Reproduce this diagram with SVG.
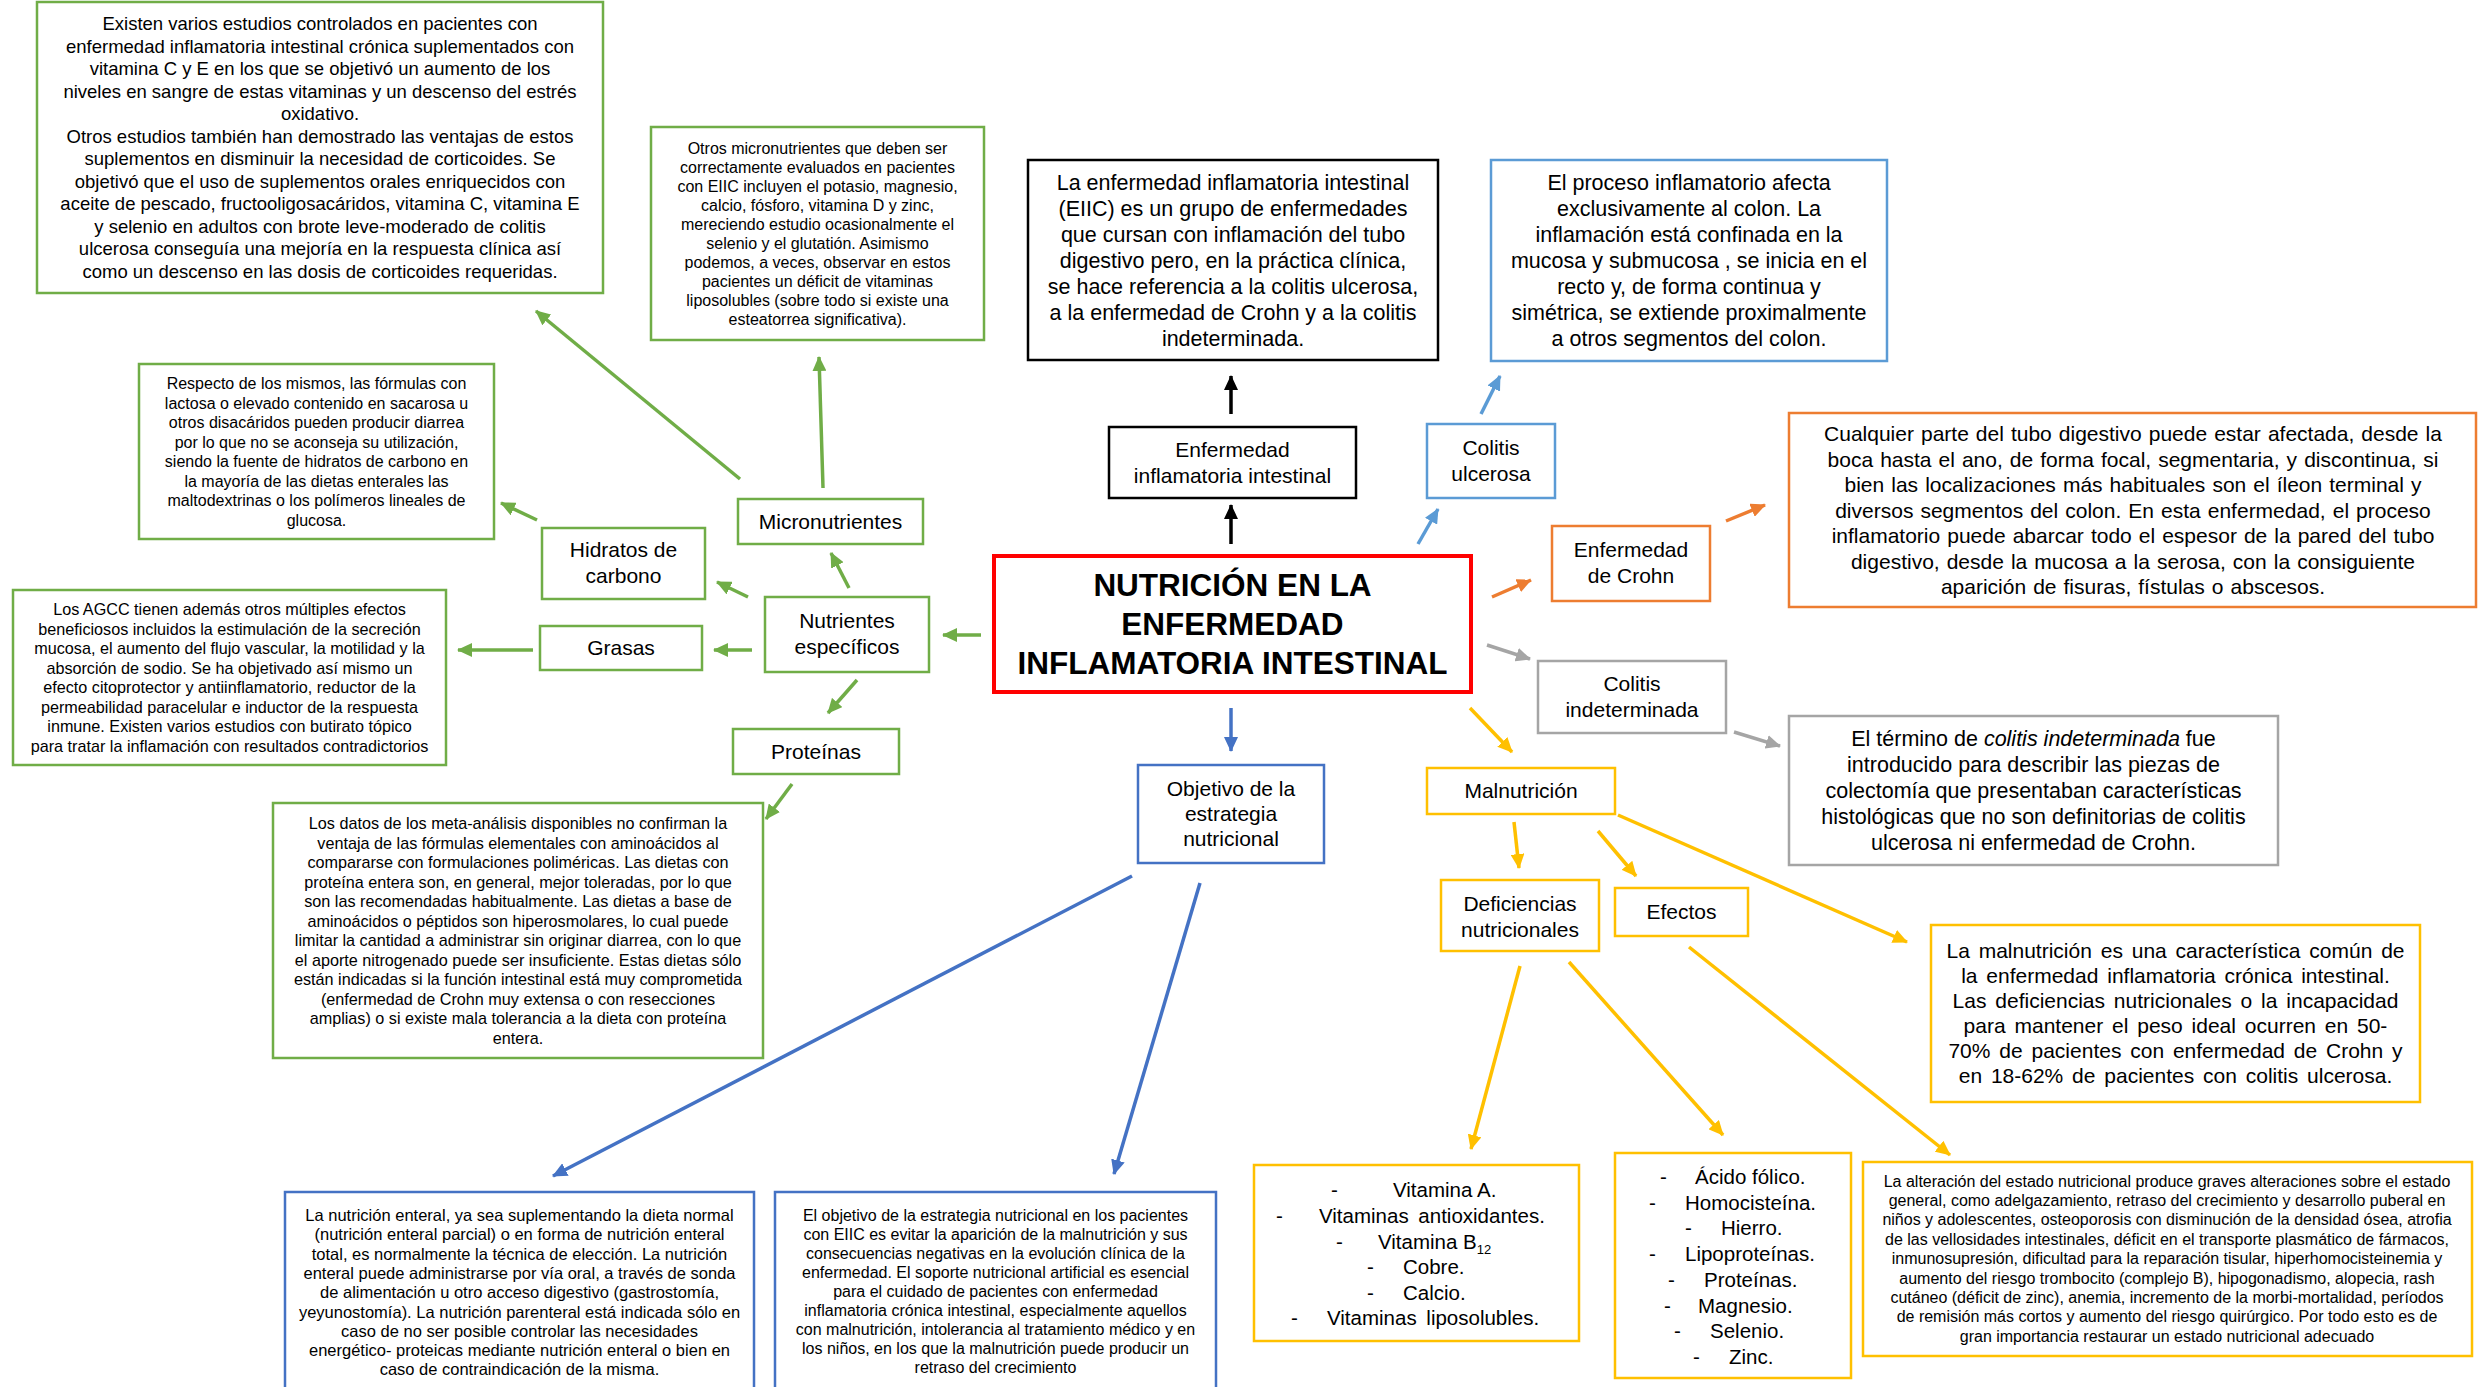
<svg xmlns="http://www.w3.org/2000/svg" width="2478" height="1387" viewBox="0 0 2478 1387">
<style>
text{font-family:"Liberation Sans",Arial,sans-serif;fill:#000;text-anchor:middle}
.ls text,text.ls{text-anchor:start}
.b{fill:#fff;stroke-width:2.5}
.gr{stroke:#70AD47}.bl{stroke:#5B9BD5}.db{stroke:#4472C4}.or{stroke:#ED7D31}.gy{stroke:#A5A5A5}.ye{stroke:#FFC000}.bk{stroke:#000}
.c{fill:none;stroke-width:3.5}
.n{font-size:21px}
</style>
<defs>
<marker id="aG" markerUnits="userSpaceOnUse" markerWidth="16" markerHeight="14" refX="14" refY="7" orient="auto"><path d="M0,0L15,7L0,14z" fill="#70AD47"/></marker>
<marker id="aB" markerUnits="userSpaceOnUse" markerWidth="16" markerHeight="14" refX="14" refY="7" orient="auto"><path d="M0,0L15,7L0,14z" fill="#5B9BD5"/></marker>
<marker id="aD" markerUnits="userSpaceOnUse" markerWidth="16" markerHeight="14" refX="14" refY="7" orient="auto"><path d="M0,0L15,7L0,14z" fill="#4472C4"/></marker>
<marker id="aO" markerUnits="userSpaceOnUse" markerWidth="16" markerHeight="14" refX="14" refY="7" orient="auto"><path d="M0,0L15,7L0,14z" fill="#ED7D31"/></marker>
<marker id="aY" markerUnits="userSpaceOnUse" markerWidth="16" markerHeight="14" refX="14" refY="7" orient="auto"><path d="M0,0L15,7L0,14z" fill="#FFC000"/></marker>
<marker id="aA" markerUnits="userSpaceOnUse" markerWidth="16" markerHeight="14" refX="14" refY="7" orient="auto"><path d="M0,0L15,7L0,14z" fill="#A5A5A5"/></marker>
<marker id="aK" markerUnits="userSpaceOnUse" markerWidth="16" markerHeight="14" refX="14" refY="7" orient="auto"><path d="M0,0L15,7L0,14z" fill="#000"/></marker>
</defs>
<rect width="2478" height="1387" fill="#fff"/>

<g id="connectors">
<line class="c bk" x1="1231" y1="414" x2="1231" y2="376" marker-end="url(#aK)"/>
<line class="c bk" x1="1231" y1="544" x2="1231" y2="505" marker-end="url(#aK)"/>
<line class="c bl" x1="1418" y1="544" x2="1438" y2="509" marker-end="url(#aB)"/>
<line class="c bl" x1="1481" y1="414" x2="1500" y2="376" marker-end="url(#aB)"/>
<line class="c or" x1="1492" y1="597" x2="1531" y2="580" marker-end="url(#aO)"/>
<line class="c or" x1="1726" y1="521" x2="1765" y2="505" marker-end="url(#aO)"/>
<line class="c gy" x1="1487" y1="645" x2="1530" y2="659" marker-end="url(#aA)"/>
<line class="c gy" x1="1734" y1="732" x2="1780" y2="746" marker-end="url(#aA)"/>
<line class="c ye" x1="1470" y1="708" x2="1512" y2="752" marker-end="url(#aY)"/>
<line class="c ye" x1="1514" y1="822" x2="1519" y2="868" marker-end="url(#aY)"/>
<line class="c ye" x1="1598" y1="831" x2="1636" y2="876" marker-end="url(#aY)"/>
<line class="c ye" x1="1618" y1="815" x2="1907" y2="942" marker-end="url(#aY)"/>
<line class="c ye" x1="1520" y1="966" x2="1471" y2="1149" marker-end="url(#aY)"/>
<line class="c ye" x1="1569" y1="962" x2="1723" y2="1135" marker-end="url(#aY)"/>
<line class="c ye" x1="1689" y1="947" x2="1950" y2="1155" marker-end="url(#aY)"/>
<line class="c db" x1="1231" y1="708" x2="1231" y2="751" marker-end="url(#aD)"/>
<line class="c db" x1="1132" y1="876" x2="553" y2="1176" marker-end="url(#aD)"/>
<line class="c db" x1="1200" y1="883" x2="1114" y2="1174" marker-end="url(#aD)"/>
<line class="c gr" x1="981" y1="635" x2="943" y2="635" marker-end="url(#aG)"/>
<line class="c gr" x1="849" y1="588" x2="831" y2="553" marker-end="url(#aG)"/>
<line class="c gr" x1="823" y1="488" x2="819" y2="357" marker-end="url(#aG)"/>
<line class="c gr" x1="740" y1="479" x2="536" y2="311" marker-end="url(#aG)"/>
<line class="c gr" x1="748" y1="597" x2="717" y2="582" marker-end="url(#aG)"/>
<line class="c gr" x1="537" y1="520" x2="501" y2="503" marker-end="url(#aG)"/>
<line class="c gr" x1="752" y1="650" x2="714" y2="650" marker-end="url(#aG)"/>
<line class="c gr" x1="533" y1="650" x2="458" y2="650" marker-end="url(#aG)"/>
<line class="c gr" x1="857" y1="680" x2="828" y2="713" marker-end="url(#aG)"/>
<line class="c gr" x1="792" y1="784" x2="766" y2="819" marker-end="url(#aG)"/>
</g>

<g id="central">
<rect x="994" y="556" width="477" height="136" fill="#fff" stroke="#FF0000" stroke-width="4"/>
<text x="1232.5" y="596" font-size="31.5" font-weight="bold"><tspan x="1232.5">NUTRICIÓN EN LA</tspan><tspan x="1232.5" dy="39">ENFERMEDAD</tspan><tspan x="1232.5" dy="39">INFLAMATORIA INTESTINAL</tspan></text>
</g>

<g id="eii">
<rect class="b bk" x="1109" y="427" width="247" height="71"/>
<text class="n" x="1232.5" y="457"><tspan x="1232.5">Enfermedad</tspan><tspan x="1232.5" dy="25.5">inflamatoria intestinal</tspan></text>
</g>
<g id="eii-text">
<rect class="b bk" x="1028" y="160" width="410" height="200" stroke-width="3"/>
<text x="1233" y="189.5" font-size="21.5"><tspan x="1233">La enfermedad inflamatoria intestinal</tspan><tspan x="1233" dy="26">(EIIC) es un grupo de enfermedades</tspan><tspan x="1233" dy="26">que cursan con inflamación del tubo</tspan><tspan x="1233" dy="26">digestivo pero, en la práctica clínica,</tspan><tspan x="1233" dy="26">se hace referencia a la colitis ulcerosa,</tspan><tspan x="1233" dy="26">a la enfermedad de Crohn y a la colitis</tspan><tspan x="1233" dy="26">indeterminada.</tspan></text>
</g>

<g id="colitis-ulcerosa">
<rect class="b bl" x="1427" y="424" width="128" height="74"/>
<text class="n" x="1491" y="455"><tspan x="1491">Colitis</tspan><tspan x="1491" dy="25.5">ulcerosa</tspan></text>
</g>
<g id="cu-text">
<rect class="b bl" x="1491" y="160" width="396" height="201"/>
<text x="1689" y="189.5" font-size="21.5"><tspan x="1689">El proceso inflamatorio afecta</tspan><tspan x="1689" dy="26">exclusivamente al colon. La</tspan><tspan x="1689" dy="26">inflamación está confinada en la</tspan><tspan x="1689" dy="26">mucosa y submucosa , se inicia en el</tspan><tspan x="1689" dy="26">recto y, de forma continua y</tspan><tspan x="1689" dy="26">simétrica, se extiende proximalmente</tspan><tspan x="1689" dy="26">a otros segmentos del colon.</tspan></text>
</g>

<g id="crohn">
<rect class="b or" x="1552" y="526" width="158" height="75"/>
<text class="n" x="1631" y="557"><tspan x="1631">Enfermedad</tspan><tspan x="1631" dy="25.5">de Crohn</tspan></text>
</g>
<g id="crohn-text">
<rect class="b or" x="1789" y="413" width="687" height="194"/>
<text x="2133" y="441" font-size="21" word-spacing="1.2"><tspan x="2133">Cualquier parte del tubo digestivo puede estar afectada, desde la</tspan><tspan x="2133" dy="25.5">boca hasta el ano, de forma focal, segmentaria, y discontinua, si</tspan><tspan x="2133" dy="25.5">bien las localizaciones más habituales son el íleon terminal y</tspan><tspan x="2133" dy="25.5">diversos segmentos del colon. En esta enfermedad, el proceso</tspan><tspan x="2133" dy="25.5">inflamatorio puede abarcar todo el espesor de la pared del tubo</tspan><tspan x="2133" dy="25.5">digestivo, desde la mucosa a la serosa, con la consiguiente</tspan><tspan x="2133" dy="25.5">aparición de fisuras, fístulas o abscesos.</tspan></text>
</g>

<g id="colitis-indeterminada">
<rect class="b gy" x="1538" y="661" width="188" height="72"/>
<text class="n" x="1632" y="691"><tspan x="1632">Colitis</tspan><tspan x="1632" dy="25.5">indeterminada</tspan></text>
</g>
<g id="ci-text">
<rect class="b gy" x="1789" y="716" width="489" height="149"/>
<text x="2033.5" y="746" font-size="21.5"><tspan x="2033.5">El término de <tspan font-style="italic">colitis indeterminada</tspan> fue</tspan><tspan x="2033.5" dy="26">introducido para describir las piezas de</tspan><tspan x="2033.5" dy="26">colectomía que presentaban características</tspan><tspan x="2033.5" dy="26">histológicas que no son definitorias de colitis</tspan><tspan x="2033.5" dy="26">ulcerosa ni enfermedad de Crohn.</tspan></text>
</g>

<g id="malnutricion">
<rect class="b ye" x="1427" y="768" width="188" height="46"/>
<text class="n" x="1521" y="798">Malnutrición</text>
</g>
<g id="malnutricion-text">
<rect class="b ye" x="1931" y="925" width="489" height="177"/>
<text x="2175.5" y="958" font-size="21" word-spacing="3"><tspan x="2175.5">La malnutrición es una característica común de</tspan><tspan x="2175.5" dy="25">la enfermedad inflamatoria crónica intestinal.</tspan><tspan x="2175.5" dy="25">Las deficiencias nutricionales o la incapacidad</tspan><tspan x="2175.5" dy="25">para mantener el peso ideal ocurren en 50-</tspan><tspan x="2175.5" dy="25">70% de pacientes con enfermedad de Crohn y</tspan><tspan x="2175.5" dy="25">en 18-62% de pacientes con colitis ulcerosa.</tspan></text>
</g>

<g id="deficiencias">
<rect class="b ye" x="1441" y="880" width="158" height="71"/>
<text class="n" x="1520" y="911"><tspan x="1520">Deficiencias</tspan><tspan x="1520" dy="25.5">nutricionales</tspan></text>
</g>
<g id="efectos">
<rect class="b ye" x="1615" y="888" width="133" height="48"/>
<text class="n" x="1681.5" y="919">Efectos</text>
</g>

<g id="lista-1">
<rect class="b ye" x="1254" y="1165" width="325" height="176" stroke-width="3"/>
<g class="ls" font-size="20.5">
<text x="1331" y="1197">-</text><text x="1393" y="1197">Vitamina A.</text>
<text x="1276" y="1223">-</text><text x="1319" y="1223" word-spacing="4">Vitaminas antioxidantes.</text>
<text x="1336" y="1249">-</text><text x="1378" y="1249">Vitamina B<tspan font-size="13" dy="5">12</tspan></text>
<text x="1367" y="1274">-</text><text x="1403" y="1274">Cobre.</text>
<text x="1367" y="1300">-</text><text x="1403" y="1300">Calcio.</text>
<text x="1291" y="1325">-</text><text x="1327" y="1325" word-spacing="4">Vitaminas liposolubles.</text>
</g>
</g>
<g id="lista-2">
<rect class="b ye" x="1615" y="1153" width="236" height="225" stroke-width="3"/>
<g class="ls" font-size="20.5">
<text x="1660" y="1184">-</text><text x="1695" y="1184">Ácido fólico.</text>
<text x="1649" y="1210">-</text><text x="1685" y="1210">Homocisteína.</text>
<text x="1685" y="1235">-</text><text x="1721" y="1235">Hierro.</text>
<text x="1649" y="1261">-</text><text x="1685" y="1261">Lipoproteínas.</text>
<text x="1668" y="1287">-</text><text x="1704" y="1287">Proteínas.</text>
<text x="1664" y="1313">-</text><text x="1698" y="1313">Magnesio.</text>
<text x="1674" y="1338">-</text><text x="1710" y="1338">Selenio.</text>
<text x="1693" y="1364">-</text><text x="1729" y="1364">Zinc.</text>
</g>
</g>
<g id="efectos-text">
<rect class="b ye" x="1863" y="1162" width="609" height="194" stroke-width="3"/>
<text x="2167" y="1186.6" font-size="16"><tspan x="2167">La alteración del estado nutricional produce graves alteraciones sobre el estado</tspan><tspan x="2167" dy="19.4">general, como adelgazamiento, retraso del crecimiento y desarrollo puberal en</tspan><tspan x="2167" dy="19.4">niños y adolescentes, osteoporosis con disminución de la densidad ósea, atrofia</tspan><tspan x="2167" dy="19.4">de las vellosidades intestinales, déficit en el transporte plasmático de fármacos,</tspan><tspan x="2167" dy="19.4">inmunosupresión, dificultad para la reparación tisular, hiperhomocisteinemia y</tspan><tspan x="2167" dy="19.4">aumento del riesgo trombocito (complejo B), hipogonadismo, alopecia, rash</tspan><tspan x="2167" dy="19.4">cutáneo (déficit de zinc), anemia, incremento de la morbi-mortalidad, períodos</tspan><tspan x="2167" dy="19.4">de remisión más cortos y aumento del riesgo quirúrgico. Por todo esto es de</tspan><tspan x="2167" dy="19.4">gran importancia restaurar un estado nutricional adecuado</tspan></text>
</g>

<g id="objetivo">
<rect class="b db" x="1138" y="765" width="186" height="98"/>
<text class="n" x="1231" y="796"><tspan x="1231">Objetivo de la</tspan><tspan x="1231" dy="25">estrategia</tspan><tspan x="1231" dy="25">nutricional</tspan></text>
</g>
<g id="enteral-text">
<rect class="b db" x="285" y="1192" width="469" height="210"/>
<text x="519.5" y="1221" font-size="16.5"><tspan x="519.5">La nutrición enteral, ya sea suplementando la dieta normal</tspan><tspan x="519.5" dy="19.3">(nutrición enteral parcial) o en forma de nutrición enteral</tspan><tspan x="519.5" dy="19.3">total, es normalmente la técnica de elección. La nutrición</tspan><tspan x="519.5" dy="19.3">enteral puede administrarse por vía oral, a través de sonda</tspan><tspan x="519.5" dy="19.3">de alimentación u otro acceso digestivo (gastrostomía,</tspan><tspan x="519.5" dy="19.3">yeyunostomía). La nutrición parenteral está indicada sólo en</tspan><tspan x="519.5" dy="19.3">caso de no ser posible controlar las necesidades</tspan><tspan x="519.5" dy="19.3">energético- proteicas mediante nutrición enteral o bien en</tspan><tspan x="519.5" dy="19.3">caso de contraindicación de la misma.</tspan></text>
</g>
<g id="objetivo-text">
<rect class="b db" x="775" y="1192" width="441" height="210"/>
<text x="995.5" y="1221" font-size="16"><tspan x="995.5">El objetivo de la estrategia nutricional en los pacientes</tspan><tspan x="995.5" dy="19">con EIIC es evitar la aparición de la malnutrición y sus</tspan><tspan x="995.5" dy="19">consecuencias negativas en la evolución clínica de la</tspan><tspan x="995.5" dy="19">enfermedad. El soporte nutricional artificial es esencial</tspan><tspan x="995.5" dy="19">para el cuidado de pacientes con enfermedad</tspan><tspan x="995.5" dy="19">inflamatoria crónica intestinal, especialmente aquellos</tspan><tspan x="995.5" dy="19">con malnutrición, intolerancia al tratamiento médico y en</tspan><tspan x="995.5" dy="19">los niños, en los que la malnutrición puede producir un</tspan><tspan x="995.5" dy="19">retraso del crecimiento</tspan></text>
</g>

<g id="nutrientes">
<rect class="b gr" x="765" y="597" width="164" height="75"/>
<text class="n" x="847" y="628"><tspan x="847">Nutrientes</tspan><tspan x="847" dy="25.5">específicos</tspan></text>
</g>
<g id="micronutrientes">
<rect class="b gr" x="738" y="499" width="185" height="45"/>
<text class="n" x="830.5" y="529">Micronutrientes</text>
</g>
<g id="micro-text">
<rect class="b gr" x="651" y="127" width="333" height="213"/>
<text x="817.5" y="153.6" font-size="16"><tspan x="817.5">Otros micronutrientes que deben ser</tspan><tspan x="817.5" dy="19">correctamente evaluados en pacientes</tspan><tspan x="817.5" dy="19">con EIIC incluyen el potasio, magnesio,</tspan><tspan x="817.5" dy="19">calcio, fósforo, vitamina D y zinc,</tspan><tspan x="817.5" dy="19">mereciendo estudio ocasionalmente el</tspan><tspan x="817.5" dy="19">selenio y el glutatión. Asimismo</tspan><tspan x="817.5" dy="19">podemos, a veces, observar en estos</tspan><tspan x="817.5" dy="19">pacientes un déficit de vitaminas</tspan><tspan x="817.5" dy="19">liposolubles (sobre todo si existe una</tspan><tspan x="817.5" dy="19">esteatorrea significativa).</tspan></text>
</g>
<g id="vitaminas-text">
<rect class="b gr" x="37" y="2" width="566" height="291"/>
<text x="320" y="30.3" font-size="18.5"><tspan x="320">Existen varios estudios controlados en pacientes con</tspan><tspan x="320" dy="22.5">enfermedad inflamatoria intestinal crónica suplementados con</tspan><tspan x="320" dy="22.5">vitamina C y E en los que se objetivó un aumento de los</tspan><tspan x="320" dy="22.5">niveles en sangre de estas vitaminas y un descenso del estrés</tspan><tspan x="320" dy="22.5">oxidativo.</tspan><tspan x="320" dy="22.5">Otros estudios también han demostrado las ventajas de estos</tspan><tspan x="320" dy="22.5">suplementos en disminuir la necesidad de corticoides. Se</tspan><tspan x="320" dy="22.5">objetivó que el uso de suplementos orales enriquecidos con</tspan><tspan x="320" dy="22.5">aceite de pescado, fructooligosacáridos, vitamina C, vitamina E</tspan><tspan x="320" dy="22.5">y selenio en adultos con brote leve-moderado de colitis</tspan><tspan x="320" dy="22.5">ulcerosa conseguía una mejoría en la respuesta clínica así</tspan><tspan x="320" dy="22.5">como un descenso en las dosis de corticoides requeridas.</tspan></text>
</g>
<g id="hidratos">
<rect class="b gr" x="542" y="528" width="163" height="71"/>
<text class="n" x="623.5" y="557"><tspan x="623.5">Hidratos de</tspan><tspan x="623.5" dy="25.5">carbono</tspan></text>
</g>
<g id="hidratos-text">
<rect class="b gr" x="139" y="364" width="355" height="175"/>
<text x="316.5" y="389" font-size="16"><tspan x="316.5">Respecto de los mismos, las fórmulas con</tspan><tspan x="316.5" dy="19.5">lactosa o elevado contenido en sacarosa u</tspan><tspan x="316.5" dy="19.5">otros disacáridos pueden producir diarrea</tspan><tspan x="316.5" dy="19.5">por lo que no se aconseja su utilización,</tspan><tspan x="316.5" dy="19.5">siendo la fuente de hidratos de carbono en</tspan><tspan x="316.5" dy="19.5">la mayoría de las dietas enterales las</tspan><tspan x="316.5" dy="19.5">maltodextrinas o los polímeros lineales de</tspan><tspan x="316.5" dy="19.5">glucosa.</tspan></text>
</g>
<g id="grasas">
<rect class="b gr" x="540" y="626" width="162" height="44"/>
<text class="n" x="621" y="655">Grasas</text>
</g>
<g id="grasas-text">
<rect class="b gr" x="13" y="590" width="433" height="175"/>
<text x="229.5" y="615" font-size="16.2"><tspan x="229.5">Los AGCC tienen además otros múltiples efectos</tspan><tspan x="229.5" dy="19.5">beneficiosos incluidos la estimulación de la secreción</tspan><tspan x="229.5" dy="19.5">mucosa, el aumento del flujo vascular, la motilidad y la</tspan><tspan x="229.5" dy="19.5">absorción de sodio. Se ha objetivado así mismo un</tspan><tspan x="229.5" dy="19.5">efecto citoprotector y antiinflamatorio, reductor de la</tspan><tspan x="229.5" dy="19.5">permeabilidad paracelular e inductor de la respuesta</tspan><tspan x="229.5" dy="19.5">inmune. Existen varios estudios con butirato tópico</tspan><tspan x="229.5" dy="19.5">para tratar la inflamación con resultados contradictorios</tspan></text>
</g>
<g id="proteinas">
<rect class="b gr" x="733" y="729" width="166" height="45"/>
<text class="n" x="816" y="759">Proteínas</text>
</g>
<g id="proteinas-text">
<rect class="b gr" x="273" y="803" width="490" height="255"/>
<text x="518" y="829" font-size="16.2"><tspan x="518">Los datos de los meta-análisis disponibles no confirman la</tspan><tspan x="518" dy="19.5">ventaja de las fórmulas elementales con aminoácidos al</tspan><tspan x="518" dy="19.5">compararse con formulaciones poliméricas. Las dietas con</tspan><tspan x="518" dy="19.5">proteína entera son, en general, mejor toleradas, por lo que</tspan><tspan x="518" dy="19.5">son las recomendadas habitualmente. Las dietas a base de</tspan><tspan x="518" dy="19.5">aminoácidos o péptidos son hiperosmolares, lo cual puede</tspan><tspan x="518" dy="19.5">limitar la cantidad a administrar sin originar diarrea, con lo que</tspan><tspan x="518" dy="19.5">el aporte nitrogenado puede ser insuficiente. Estas dietas sólo</tspan><tspan x="518" dy="19.5">están indicadas si la función intestinal está muy comprometida</tspan><tspan x="518" dy="19.5">(enfermedad de Crohn muy extensa o con resecciones</tspan><tspan x="518" dy="19.5">amplias) o si existe mala tolerancia a la dieta con proteína</tspan><tspan x="518" dy="19.5">entera.</tspan></text>
</g>
</svg>
